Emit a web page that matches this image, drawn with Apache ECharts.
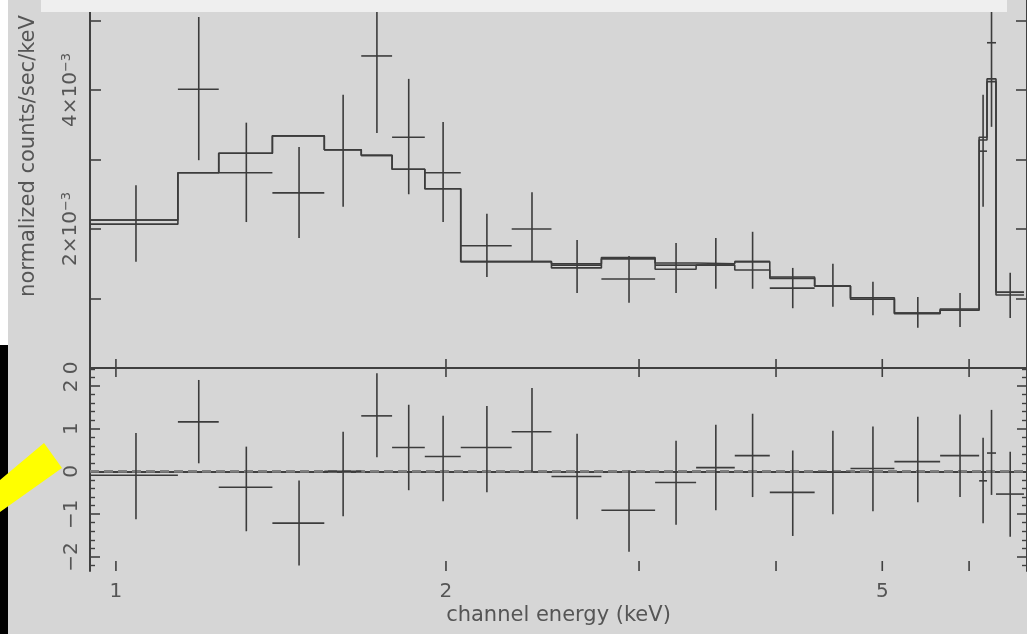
<!DOCTYPE html>
<html>
<head>
<meta charset="utf-8">
<title>spectrum fit</title>
<script src="https://cdn.jsdelivr.net/npm/echarts@6.0.0/dist/echarts.min.js"></script>
<style>
  html, body { margin: 0; padding: 0; background: #d6d6d6; }
  #main { width: 1027px; height: 634px; }
</style>
</head>
<body>
<div id="main"></div>
<script>
// energy range on the plot (keV)
var X_MIN = 0.947;
var X_MAX = 6.776;

// channel bin edges (keV), 23 bins
var binEdges = [0.947, 1.139, 1.241, 1.389, 1.549, 1.674, 1.786, 1.913, 2.063, 2.296,
  2.496, 2.772, 3.103, 3.382, 3.668, 3.948, 4.338, 4.677, 5.129, 5.646, 6.128, 6.23, 6.349, 6.733];

// folded model, units of 1e-3 counts/sec/keV (two overlapping curves)
var modelA = [2.13, 2.81, 3.09, 3.34, 3.14, 3.06, 2.86, 2.58, 1.53, 1.53, 1.50, 1.59,
  1.51, 1.50, 1.53, 1.31, 1.18, 1.01, 0.79, 0.85, 3.32, 4.16, 1.09];
var modelB = [2.07, 2.81, 3.09, 3.34, 3.14, 3.06, 2.86, 2.58, 1.53, 1.53, 1.44, 1.57,
  1.42, 1.48, 1.41, 1.29, 1.18, 0.99, 0.78, 0.83, 3.28, 4.12, 1.05];

// data points with 1 sigma errors, units of 1e-3
var dataVal  = [2.13, 4.01, 2.81, 2.52, 3.14, 4.49, 3.32, 2.81, 1.76, 2.00, 1.48, 1.28,
  1.48, 1.48, 1.53, 1.15, 1.18, 0.99, 0.79, 0.83, 3.12, 4.68, 1.09];
var dataLow  = [1.53, 2.99, 2.10, 1.87, 2.32, 3.38, 2.50, 2.10, 1.31, 1.53, 1.08, 0.94,
  1.08, 1.14, 1.14, 0.86, 0.88, 0.76, 0.58, 0.59, 2.32, 3.47, 0.72];
var dataHigh = [2.63, 5.05, 3.53, 3.18, 3.93, 5.25, 4.16, 3.54, 2.22, 2.53, 1.84, 1.61,
  1.80, 1.87, 1.96, 1.44, 1.50, 1.24, 1.02, 1.08, 3.93, 5.25, 1.37];

// residuals (sigma)
var resVal  = [-0.09, 1.16, -0.37, -1.21, 0.00, 1.30, 0.56, 0.35, 0.56, 0.93, -0.12, -0.91,
  -0.26, 0.09, 0.37, -0.49, -0.02, 0.07, 0.23, 0.37, -0.22, 0.43, -0.53];
var resLow  = [-1.12, 0.19, -1.40, -2.20, -1.05, 0.33, -0.44, -0.70, -0.49, -0.02, -1.12, -1.88,
  -1.25, -0.91, -0.60, -1.51, -1.00, -0.93, -0.72, -0.60, -1.21, -0.55, -1.53];
var resHigh = [0.90, 2.14, 0.58, -0.21, 0.93, 2.30, 1.56, 1.30, 1.53, 1.95, 0.88, 0.02,
  0.72, 1.09, 1.35, 0.49, 0.95, 1.05, 1.28, 1.33, 0.79, 1.44, 0.46];

// axis ticks
var xTickValues = [1, 2, 3, 4, 5, 6];
var xTickLabels = ['1', '2', '', '', '5', ''];
var topTicks = [0, 1, 2, 3, 4, 5];
var topLabelTicks = [0, 2, 4];
var resTicks = [-2, -1, 0, 1, 2];
var resMinorTicks = [-2.2, -1.8, -1.6, -1.4, -1.2, -0.8, -0.6, -0.4, -0.2,
  0.2, 0.4, 0.6, 0.8, 1.2, 1.4, 1.6, 1.8, 2.2, 2.4];

var TOP_MAX = 5.295;
var RES_MIN = -2.33, RES_MAX = 2.42;

var FONT = 'DejaVu Sans';
var LINE = '#3c3c3c';
var AXIS = '#404040';
var TEXT = '#555555';

function stepData(vals) {
  return binEdges.map(function (e, i) {
    return [e, vals[Math.min(i, vals.length - 1)]];
  });
}

function crossRows(vals, lows, highs) {
  return vals.map(function (v, i) {
    return [binEdges[i], binEdges[i + 1], v, lows[i], highs[i]];
  });
}

// horizontal bar = bin width, vertical bar = error
function crossItem(params, api) {
  var lo = api.value(0), hi = api.value(1);
  var mid = (lo + hi) / 2;
  var a = api.coord([lo, api.value(2)]);
  var b = api.coord([hi, api.value(2)]);
  var c = api.coord([mid, api.value(3)]);
  var d = api.coord([mid, api.value(4)]);
  var st = { stroke: LINE, lineWidth: 1.6 };
  return {
    type: 'group',
    children: [
      { type: 'line', shape: { x1: a[0], y1: a[1], x2: b[0], y2: b[1] }, style: st },
      { type: 'line', shape: { x1: c[0], y1: c[1], x2: d[0], y2: d[1] }, style: st }
    ]
  };
}

// energy ticks on the panel border lines + labels
function xTickItem(params, api) {
  var cs = params.coordSys;
  var x = api.coord([api.value(0), 0])[0];
  var top = cs.y, bottom = cs.y + cs.height;
  var st = { stroke: AXIS, lineWidth: 1.6 };
  var children = [
    { type: 'line', shape: { x1: x, y1: top - 9, x2: x, y2: top + 9 }, style: st },
    { type: 'line', shape: { x1: x, y1: bottom - 10, x2: x, y2: bottom }, style: st }
  ];
  var label = xTickLabels[params.dataIndex];
  if (label) {
    children.push({
      type: 'text',
      style: { text: label, x: x, y: bottom + 11, align: 'center', verticalAlign: 'top',
        fontSize: 20, fontFamily: FONT, fill: TEXT }
    });
  }
  return { type: 'group', children: children };
}

var noSplit = { show: false };
var axisLine = { show: true, lineStyle: { color: AXIS, width: 2 } };

function xAxisFor(grid, extra) {
  var ax = {
    type: 'log', gridIndex: grid, min: X_MIN, max: X_MAX, logBase: 10,
    axisLine: axisLine, axisTick: { show: false }, axisLabel: { show: false },
    splitLine: noSplit, minorTick: { show: false }, minorSplitLine: { show: false }
  };
  return Object.assign(ax, extra || {});
}

var myChart = echarts.init(document.getElementById('main'), null, { renderer: 'canvas' });

myChart.setOption({
  backgroundColor: '#d6d6d6',
  animation: false,
  grid: [
    { left: 90, right: -3, top: 0, height: 368 },
    { left: 90, right: -3, top: 368, height: 203 }
  ],
  xAxis: [
    xAxisFor(0),
    xAxisFor(1, {
      name: 'channel energy (keV)', nameLocation: 'middle', nameGap: 34,
      nameTextStyle: { fontSize: 21, fontFamily: FONT, color: TEXT }
    })
  ],
  yAxis: [
    {
      type: 'value', gridIndex: 0, position: 'left', min: 0, max: TOP_MAX, interval: 1,
      name: 'normalized counts/sec/keV', nameLocation: 'middle', nameRotate: 90, nameGap: 51,
      nameTextStyle: { fontSize: 21, fontFamily: FONT, color: TEXT, padding: [0, 0, 0, 56] },
      axisLine: axisLine,
      axisTick: { show: true, inside: true, length: 11, customValues: topTicks,
        lineStyle: { color: AXIS, width: 1.6 } },
      axisLabel: {
        show: true, rotate: 90, margin: 8, customValues: topLabelTicks,
        fontSize: 20, fontFamily: FONT, color: TEXT,
        formatter: function (v) {
          var n = Math.round(v);
          if (topLabelTicks.indexOf(n) < 0) return '';
          if (n === 0) return '0';
          return '{a|' + n + '×10}{b|−3}';
        },
        rich: {
          a: { fontSize: 20, fontFamily: FONT, color: TEXT, lineHeight: 22 },
          b: { fontSize: 13, fontFamily: FONT, color: TEXT, lineHeight: 14, verticalAlign: 'top' }
        }
      },
      splitLine: noSplit
    },
    {
      type: 'value', gridIndex: 0, position: 'right', min: 0, max: TOP_MAX, interval: 1,
      axisLine: axisLine,
      axisTick: { show: true, inside: true, length: 11, customValues: topTicks,
        lineStyle: { color: AXIS, width: 1.6 } },
      axisLabel: { show: false }, splitLine: noSplit
    },
    {
      type: 'value', gridIndex: 1, position: 'left', min: RES_MIN, max: RES_MAX,
      axisLine: axisLine,
      axisTick: { show: true, inside: true, length: 10, customValues: resTicks,
        lineStyle: { color: AXIS, width: 1.6 } },
      axisLabel: {
        show: true, rotate: 90, margin: 8, customValues: resTicks,
        fontSize: 20, fontFamily: FONT, color: TEXT,
        formatter: function (v) {
          var n = Math.round(v);
          return n < 0 ? '−' + Math.abs(n) : String(n);
        }
      },
      splitLine: noSplit
    },
    {
      type: 'value', gridIndex: 1, position: 'right', min: RES_MIN, max: RES_MAX,
      axisLine: axisLine,
      axisTick: { show: true, inside: true, length: 10, customValues: resTicks,
        lineStyle: { color: AXIS, width: 1.6 } },
      axisLabel: { show: false }, splitLine: noSplit
    },
    {
      type: 'value', gridIndex: 1, position: 'left', min: RES_MIN, max: RES_MAX,
      axisLine: { show: false },
      axisTick: { show: true, inside: true, length: 5, customValues: resMinorTicks,
        lineStyle: { color: AXIS, width: 1.4 } },
      axisLabel: { show: false }, splitLine: noSplit
    },
    {
      type: 'value', gridIndex: 1, position: 'right', min: RES_MIN, max: RES_MAX,
      axisLine: { show: false },
      axisTick: { show: true, inside: true, length: 5, customValues: resMinorTicks,
        lineStyle: { color: AXIS, width: 1.4 } },
      axisLabel: { show: false }, splitLine: noSplit
    }
  ],
  series: [
    {
      type: 'line', xAxisIndex: 0, yAxisIndex: 0, step: 'end', symbol: 'none',
      lineStyle: { color: LINE, width: 1.6 }, data: stepData(modelB)
    },
    {
      type: 'line', xAxisIndex: 0, yAxisIndex: 0, step: 'end', symbol: 'none',
      lineStyle: { color: LINE, width: 1.6 }, data: stepData(modelA)
    },
    {
      type: 'custom', xAxisIndex: 0, yAxisIndex: 0, renderItem: crossItem,
      encode: { x: [0, 1], y: [2, 3, 4] },
      data: crossRows(dataVal, dataLow, dataHigh)
    },
    {
      type: 'line', xAxisIndex: 1, yAxisIndex: 2, symbol: 'none', z: 1,
      lineStyle: { color: '#7e7e7e', width: 2.6, type: [9, 5] },
      data: [[X_MIN, 0], [X_MAX, 0]]
    },
    {
      type: 'custom', xAxisIndex: 1, yAxisIndex: 2, renderItem: crossItem, z: 3,
      encode: { x: [0, 1], y: [2, 3, 4] },
      data: crossRows(resVal, resLow, resHigh)
    },
    {
      type: 'custom', xAxisIndex: 1, yAxisIndex: 2, renderItem: xTickItem, clip: false,
      encode: { x: 0, y: 1 },
      data: xTickValues.map(function (v) { return [v, 0]; })
    }
  ],
  graphic: [
    { type: 'rect', z: 100, shape: { x: 0, y: 0, width: 8, height: 345 }, style: { fill: '#ffffff' } },
    { type: 'rect', z: 100, shape: { x: 0, y: 345, width: 8, height: 289 }, style: { fill: '#000000' } },
    { type: 'polygon', z: 101, shape: { points: [[44, 443], [62, 468], [0, 512], [0, 480]] },
      style: { fill: '#ffff00' } },
    { type: 'rect', z: 100, shape: { x: 41, y: 0, width: 966, height: 12 }, style: { fill: '#efefef' } }
  ]
});

window.onresize = function () {
  myChart.resize();
};
</script>
</body>
</html>
